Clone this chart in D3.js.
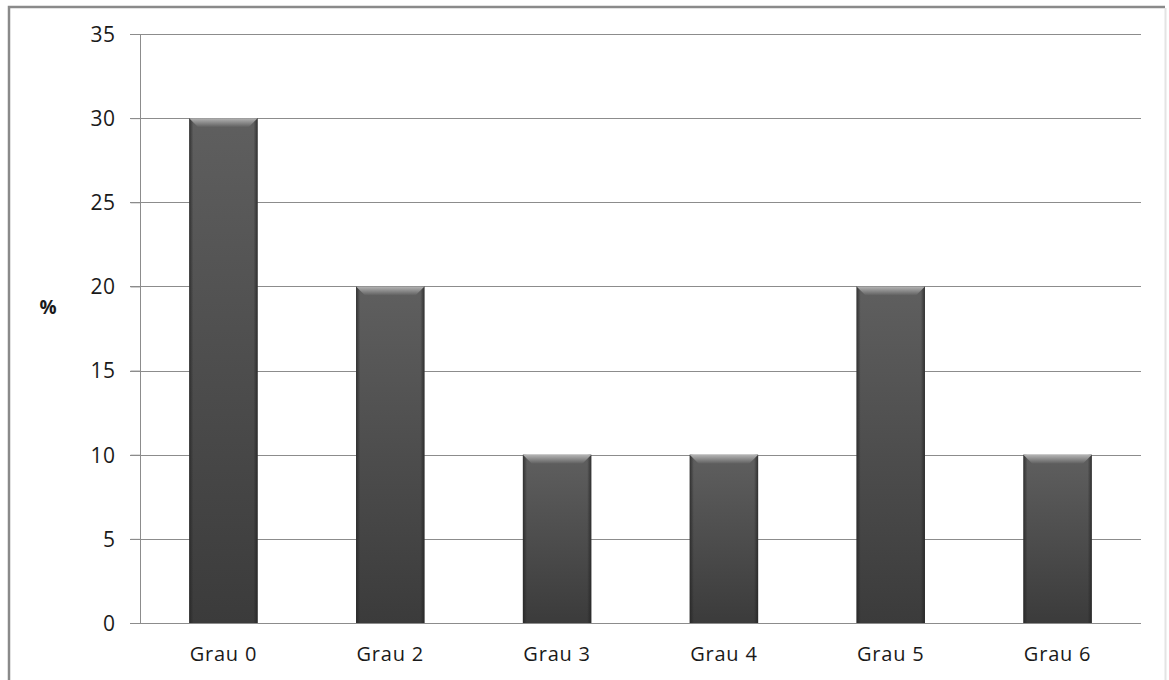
<!DOCTYPE html>
<html lang="pt">
<head>
<meta charset="UTF-8"/>
<title>Grau - %</title>
<script src="https://d3js.org/d3.v7.min.js"></script>
<style>
  body { margin: 0; background: #fff; }
  text { font-family: "Open Sans", sans-serif; fill: #1a1a1a; }
</style>
</head>
<body>
<script>
    // chart data
    var categories = ["Grau 0", "Grau 2", "Grau 3", "Grau 4", "Grau 5", "Grau 6"];
    var values = [30, 20, 10, 10, 20, 10];
    var yTicks = [0, 5, 10, 15, 20, 25, 30, 35];

    var w = 1169, h = 680;
    var plotLeft = 140, plotRight = 1141, plotTop = 34, plotBottom = 623;

    var svg = d3.select("body").append("svg")
        .attr("width", w)
        .attr("height", h);

    // outer frame: dark left/top, light right
    svg.append("path")
        .attr("d", "M9,700V7H1165")
        .attr("fill", "none")
        .attr("stroke", "#8a8a8a")
        .attr("stroke-width", 2.5);
    svg.append("line")
        .attr("x1", 1165.5).attr("x2", 1165.5)
        .attr("y1", 8).attr("y2", 680)
        .attr("stroke", "#e4e4e4")
        .attr("stroke-width", 2);

    var xScale = d3.scaleBand()
        .domain(categories)
        .range([plotLeft, plotRight])
        .paddingInner(0.59)
        .paddingOuter(0.295);

    var yScale = d3.scaleLinear()
        .domain([0, 35])
        .range([plotBottom, plotTop]);

    // gridlines
    svg.append("g")
        .selectAll("line")
        .data(yTicks.slice(1))
        .enter()
        .append("line")
        .attr("x1", plotLeft - 10)
        .attr("x2", plotRight)
        .attr("y1", function (d) { return Math.round(yScale(d)) + 0.5; })
        .attr("y2", function (d) { return Math.round(yScale(d)) + 0.5; })
        .attr("stroke", "#8c8c8c")
        .attr("stroke-width", 1);

    // gradients for the bars
    var defs = svg.append("defs");
    var vg = defs.append("linearGradient").attr("id", "vgrad")
        .attr("x1", 0).attr("y1", 0).attr("x2", 0).attr("y2", 1);
    vg.append("stop").attr("offset", "0%").attr("stop-color", "#5f5f5f");
    vg.append("stop").attr("offset", "100%").attr("stop-color", "#3b3b3b");

    var hg = defs.append("linearGradient").attr("id", "hgrad")
        .attr("x1", 0).attr("y1", 0).attr("x2", 1).attr("y2", 0);
    hg.append("stop").attr("offset", "0%").attr("stop-color", "#222").attr("stop-opacity", 0.75);
    hg.append("stop").attr("offset", "6%").attr("stop-color", "#222").attr("stop-opacity", 0);
    hg.append("stop").attr("offset", "94%").attr("stop-color", "#222").attr("stop-opacity", 0);
    hg.append("stop").attr("offset", "100%").attr("stop-color", "#222").attr("stop-opacity", 0.75);

    var bg = defs.append("linearGradient").attr("id", "bevel")
        .attr("x1", 0).attr("y1", 0).attr("x2", 0).attr("y2", 1);
    bg.append("stop").attr("offset", "0%").attr("stop-color", "#b5b5b5");
    bg.append("stop").attr("offset", "100%").attr("stop-color", "#5f5f5f");

    var bars = svg.append("g")
        .selectAll("g")
        .data(values)
        .enter()
        .append("g");

    bars.append("rect")
        .attr("x", function (d, i) { return xScale(categories[i]); })
        .attr("y", function (d) { return yScale(d); })
        .attr("width", xScale.bandwidth())
        .attr("height", function (d) { return yScale(0) - yScale(d); })
        .attr("fill", "url(#vgrad)");

    bars.append("rect")
        .attr("x", function (d, i) { return xScale(categories[i]); })
        .attr("y", function (d) { return yScale(d); })
        .attr("width", xScale.bandwidth())
        .attr("height", function (d) { return yScale(0) - yScale(d); })
        .attr("fill", "url(#hgrad)");

    // top bevel
    bars.append("path")
        .attr("d", function (d, i) {
            var x0 = xScale(categories[i]), x1 = x0 + xScale.bandwidth(), y0 = yScale(d), b = 9;
            return "M" + x0 + "," + y0 + "L" + x1 + "," + y0 + "L" + (x1 - b) + "," + (y0 + b) +
                "L" + (x0 + b) + "," + (y0 + b) + "Z";
        })
        .attr("fill", "url(#bevel)");

    // y axis
    var yAxis = d3.axisLeft(yScale)
        .tickValues(yTicks)
        .tickSize(10)
        .tickPadding(15);

    var ya = svg.append("g")
        .attr("transform", "translate(" + (plotLeft + 0.5) + ",0)")
        .call(yAxis);
    ya.selectAll("path, line").attr("stroke", "#8c8c8c");
    ya.select(".domain").attr("d", "M0," + plotTop + "V" + plotBottom);
    ya.selectAll("text")
        .attr("font-family", "Open Sans")
        .attr("font-size", "21px")
        .attr("letter-spacing", "0.5px")
        .attr("fill", "#1a1a1a")
        .attr("dy", "0.35em");

    // x axis
    svg.append("line")
        .attr("x1", plotLeft - 10).attr("x2", plotRight)
        .attr("y1", plotBottom + 0.5).attr("y2", plotBottom + 0.5)
        .attr("stroke", "#8c8c8c");

    svg.append("g")
        .selectAll("text")
        .data(categories)
        .enter()
        .append("text")
        .attr("x", function (d) { return xScale(d) + xScale.bandwidth() / 2; })
        .attr("y", 661)
        .attr("text-anchor", "middle")
        .attr("font-size", "20px")
        .attr("letter-spacing", "0.8px")
        .text(function (d) { return d; });

    // y label
    svg.append("text")
        .attr("x", 48)
        .attr("y", 314)
        .attr("text-anchor", "middle")
        .attr("font-size", "19px")
        .attr("font-weight", "bold")
        .text("%");
</script>
</body>
</html>
